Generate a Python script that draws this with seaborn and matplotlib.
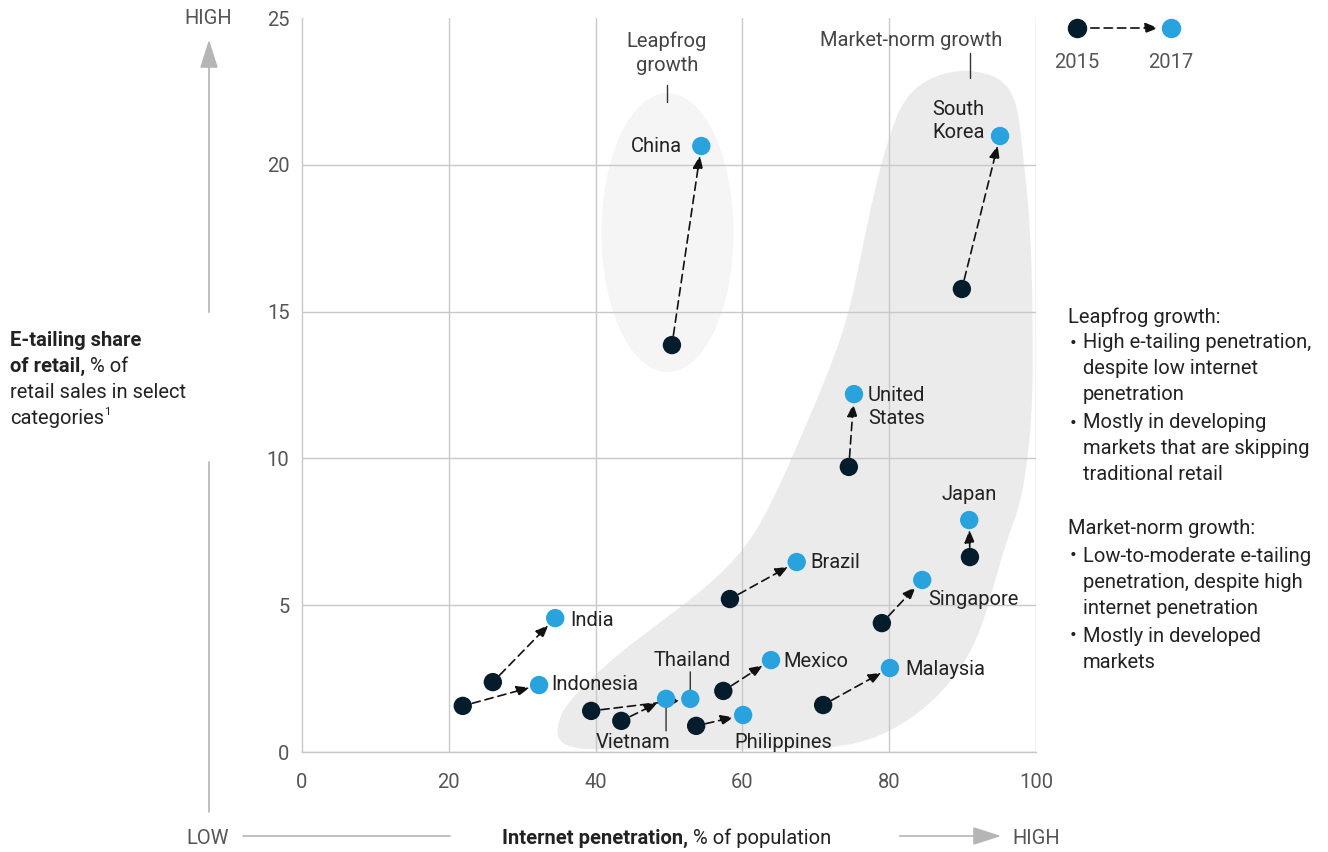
import matplotlib
matplotlib.use('Agg')
import matplotlib.pyplot as plt
import pandas as pd
import seaborn as sns
from matplotlib.lines import Line2D
from matplotlib.path import Path
from matplotlib.patches import Ellipse, PathPatch, FancyArrowPatch

# values
countries = ['China', 'South Korea', 'United States', 'Japan', 'Brazil', 'Singapore', 'Malaysia',
             'Mexico', 'India', 'Indonesia', 'Thailand', 'Vietnam', 'Philippines']
labels = ['China', 'South\nKorea', 'United\nStates', 'Japan', 'Brazil', 'Singapore', 'Malaysia',
          'Mexico', 'India', 'Indonesia', 'Thailand', 'Vietnam', 'Philippines']
x2015 = [50.4, 89.9, 74.5, 91.0, 58.3, 79.0, 71.0, 57.4, 26.0, 21.9, 39.4, 43.5, 53.7]
y2015 = [13.86, 15.77, 9.71, 6.64, 5.21, 4.39, 1.60, 2.08, 2.38, 1.57, 1.40, 1.06, 0.89]
x2017 = [54.4, 95.1, 75.2, 90.9, 67.4, 84.5, 80.1, 63.9, 34.5, 32.3, 52.9, 49.6, 60.1]
y2017 = [20.64, 20.98, 12.19, 7.90, 6.47, 5.86, 2.86, 3.13, 4.56, 2.28, 1.81, 1.81, 1.26]
x_ticks = [0, 20, 40, 60, 80, 100]
y_ticks = [0, 5, 10, 15, 20, 25]

# outline of the market-norm region and the leapfrog ellipse (data units)
blob_x = [34.6, 35.1, 36.9, 39.6, 43.3, 47.4, 55.2, 60.6, 64.2, 67.8, 71.3, 74.3, 76.3, 78.3, 80.1,
          81.5, 83.5, 86.0, 88.3, 91.0, 95.1, 97.4, 98.2, 99.2, 99.6, 99.5, 98.1, 96.0, 94.1, 92.0,
          88.7, 84.2, 78.7, 73.3, 67.8, 40.6, 36.5]
blob_y = [0.48, 1.23, 1.87, 2.55, 3.37, 4.16, 5.62, 6.98, 8.58, 10.63, 12.67, 14.71, 17.10, 19.48,
          21.02, 21.97, 22.62, 22.99, 23.16, 23.23, 22.99, 22.21, 20.40, 18.12, 14.71, 11.31, 8.58,
          7.22, 5.52, 3.81, 2.45, 1.33, 0.51, 0.17, 0.07, 0.07, 0.14]
leap_center = (49.8, 17.69)
leap_size = (18.0, 9.50)

# label placement, offset in pixels from the 2017 dot
label_pos = {
    'China': (-19, 0, 'right'), 'South Korea': (-15, 15, 'right'), 'United States': (14, -13, 'left'),
    'Japan': (0, 26, 'center'), 'Brazil': (14, 0, 'left'), 'Singapore': (6, -20, 'left'),
    'Malaysia': (15, -1, 'left'), 'Mexico': (12, -1, 'left'), 'India': (15, -2, 'left'),
    'Indonesia': (12, 1, 'left'), 'Thailand': (2, 38, 'center'), 'Vietnam': (-33, -44, 'center'),
    'Philippines': (-9, -27, 'left'),
}

W, H = 1328, 852
DARK = '#051c2c'
BLUE = '#29a3de'
GRID = '#c8c8c8'
TXT = '#222222'
GREY_TXT = '#555555'
FS = 14.5

sns.set_style('white')
plt.rcParams['font.family'] = ['Roboto', 'DejaVu Sans']


def fx(px):
    return px / W


def fy(py):
    return 1 - py / H


def smooth_closed(xs, ys):
    # quadratic bezier through midpoints of the outline
    pts = list(zip(xs, ys))
    n = len(pts)
    mid = lambda a, b: ((a[0] + b[0]) / 2, (a[1] + b[1]) / 2)
    verts = [mid(pts[-1], pts[0])]
    codes = [Path.MOVETO]
    for i in range(n):
        verts += [pts[i], mid(pts[i], pts[(i + 1) % n])]
        codes += [Path.CURVE3, Path.CURVE3]
    verts.append(verts[0])
    codes.append(Path.CLOSEPOLY)
    return Path(verts, codes)


fig = plt.figure(figsize=(W / 100, H / 100), dpi=100)
ax = fig.add_axes([fx(302), fy(752), (1036 - 302) / W, (752 - 18) / H])

ax.add_patch(PathPatch(smooth_closed(blob_x, blob_y), fc='#ebebeb', ec='none', zorder=0.2))
ax.add_patch(Ellipse(leap_center, leap_size[0], leap_size[1], fc='#f5f5f5', ec='none', zorder=0.2))

df = pd.DataFrame({
    'x': x2015 + x2017,
    'y': y2015 + y2017,
    'year': ['2015'] * len(x2015) + ['2017'] * len(x2017),
})
sns.scatterplot(data=df, x='x', y='y', hue='year', palette={'2015': DARK, '2017': BLUE},
                s=175, linewidth=0, legend=False, zorder=4, ax=ax)

for i in range(len(countries)):
    ax.annotate('', xy=(x2017[i], y2017[i]), xytext=(x2015[i], y2015[i]),
                arrowprops=dict(arrowstyle='-|>,head_length=0.55,head_width=0.22', color='#111111',
                                lw=1.2, linestyle=(0, (5, 3)), shrinkA=7, shrinkB=7, mutation_scale=14),
                zorder=3)
    dx, dy, ha = label_pos[countries[i]]
    ax.annotate(labels[i], xy=(x2017[i], y2017[i]), xytext=(dx, dy), textcoords='offset pixels',
                ha=ha, va='center', multialignment='left', fontsize=FS, color=TXT, linespacing=1.3,
                zorder=5)

# leader lines for Thailand and Vietnam
th = countries.index('Thailand')
vn = countries.index('Vietnam')
for i, off in [(th, 27), (vn, -32)]:
    ax.annotate('', xy=(x2017[i], y2017[i]), xytext=(0, off), textcoords='offset pixels',
                arrowprops=dict(arrowstyle='-', color='#333333', lw=1, shrinkA=0, shrinkB=6.5))

ax.set_xlim(0, 100)
ax.set_ylim(0, 25)
ax.set_xticks(x_ticks)
ax.set_yticks(y_ticks)
ax.set_xlabel('')
ax.set_ylabel('')
ax.grid(True, color=GRID, lw=1)
ax.set_axisbelow(True)
ax.yaxis.get_gridlines()[-1].set_visible(False)
ax.xaxis.get_gridlines()[0].set_visible(False)
for s in ['top', 'right']:
    ax.spines[s].set_visible(False)
for s in ['left', 'bottom']:
    ax.spines[s].set_color(GRID)
    ax.spines[s].set_linewidth(1)
ax.tick_params(axis='x', length=0, pad=15, labelsize=FS, labelcolor=GREY_TXT)
ax.tick_params(axis='y', direction='in', length=5, width=1, color=GRID, pad=9,
               labelsize=FS, labelcolor=GREY_TXT)

# group annotations above the plot
fig.text(fx(667), fy(53), 'Leapfrog\ngrowth', ha='center', va='center', fontsize=FS,
         color='#444444', linespacing=1.3)
fig.add_artist(Line2D([fx(667), fx(667)], [fy(85), fy(102)], color='#333333', lw=1))
fig.text(fx(911), fy(40), 'Market-norm growth', ha='center', va='center', fontsize=FS, color='#444444')
fig.add_artist(Line2D([fx(970), fx(970)], [fy(53), fy(78)], color='#333333', lw=1))

# key
fig.add_artist(Line2D([fx(1077)], [fy(28)], marker='o', markersize=13, color=DARK, lw=0))
fig.add_artist(Line2D([fx(1171)], [fy(28)], marker='o', markersize=13, color=BLUE, lw=0))
fig.add_artist(FancyArrowPatch((fx(1088), fy(28)), (fx(1161), fy(28)), transform=fig.transFigure,
                               arrowstyle='-|>,head_length=0.55,head_width=0.22', mutation_scale=14,
                               color='#111111', lw=1.2, linestyle=(0, (5, 3))))
fig.text(fx(1077), fy(62), '2015', ha='center', va='center', fontsize=FS, color=GREY_TXT)
fig.text(fx(1171), fy(62), '2017', ha='center', va='center', fontsize=FS, color=GREY_TXT)

# side notes
notes = [
    (317, 1068, 'Leapfrog growth:'),
    (343, 1070, '•'), (343, 1083, 'High e-tailing penetration,'),
    (369, 1083, 'despite low internet'),
    (395, 1083, 'penetration'),
    (423, 1070, '•'), (423, 1083, 'Mostly in developing'),
    (449, 1083, 'markets that are skipping'),
    (475, 1083, 'traditional retail'),
    (529, 1068, 'Market-norm growth:'),
    (556, 1070, '•'), (556, 1083, 'Low-to-moderate e-tailing'),
    (582, 1083, 'penetration, despite high'),
    (608, 1083, 'internet penetration'),
    (636, 1070, '•'), (636, 1083, 'Mostly in developed'),
    (662, 1083, 'markets'),
]
for py, px, t in notes:
    fig.text(fx(px), fy(py), t, ha='left', va='center', fontsize=FS, color=TXT)

renderer = fig.canvas.get_renderer()


def rich_line(px, py, parts):
    # parts: list of (text, weight, size, raise in px)
    x = fx(px)
    for t, w, sz, up in parts:
        txt = fig.text(x, fy(py - up), t, ha='left', va='center', fontsize=sz, color=TXT, fontweight=w)
        bb = txt.get_window_extent(renderer=renderer)
        x = bb.x1 / W


rich_line(10, 340, [('E-tailing share', 'bold', FS, 0)])
rich_line(10, 366, [('of retail,', 'bold', FS, 0), (' % of', 'normal', FS, 0)])
rich_line(10, 392, [('retail sales in select', 'normal', FS, 0)])
rich_line(10, 418, [('categories', 'normal', FS, 0), ('1', 'normal', 8, 6)])
rich_line(502, 838, [('Internet penetration,', 'bold', FS, 0), (' % of population', 'normal', FS, 0)])

# low / high guides
AX_GREY = '#b5b5b5'
fig.text(fx(208), fy(18), 'HIGH', ha='center', va='center', fontsize=FS, color=GREY_TXT)
fig.text(fx(208), fy(838), 'LOW', ha='center', va='center', fontsize=FS, color=GREY_TXT)
fig.text(fx(1036), fy(838), 'HIGH', ha='center', va='center', fontsize=FS, color=GREY_TXT)
fig.add_artist(Line2D([fx(209), fx(209)], [fy(462), fy(812)], color=AX_GREY, lw=1.2))
fig.add_artist(FancyArrowPatch((fx(209), fy(315)), (fx(209), fy(37)), transform=fig.transFigure,
                               arrowstyle='-|>,head_length=1.1,head_width=0.35', mutation_scale=16,
                               color=AX_GREY, lw=1.2))
fig.add_artist(Line2D([fx(243), fx(450)], [fy(836), fy(836)], color=AX_GREY, lw=1.2))
fig.add_artist(FancyArrowPatch((fx(897), fy(836)), (fx(1004), fy(836)), transform=fig.transFigure,
                               arrowstyle='-|>,head_length=1.1,head_width=0.35', mutation_scale=16,
                               color=AX_GREY, lw=1.2))

fig.savefig('out.png', dpi=100)
